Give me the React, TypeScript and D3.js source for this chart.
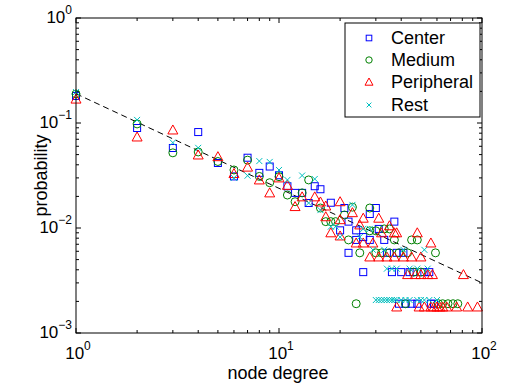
import React from "react";
import * as d3 from "d3";

// degree, probability pairs
const center: [number, number][] = [
  [1, 0.181], [2, 0.0896], [3, 0.0578], [4, 0.082], [5, 0.0416], [6, 0.031], [7, 0.0467], [8, 0.0335],
  [9, 0.0385], [10, 0.0318], [11, 0.025], [12, 0.0216], [13, 0.0216], [14, 0.0173], [15, 0.025], [16, 0.0234],
  [18, 0.0174], [20, 0.0095], [21, 0.0155], [22, 0.0115], [22, 0.0058], [24, 0.0095], [24, 0.0077], [26, 0.0082],
  [26, 0.0038], [28, 0.0136], [28, 0.0077], [30, 0.0155], [31, 0.0098], [33, 0.0077], [34, 0.0058], [37, 0.0115],
  [38, 0.0058], [41, 0.0058], [36, 0.0038], [40, 0.0038], [44, 0.0038], [46, 0.0038], [52, 0.0038], [55, 0.0038],
  [39, 0.0019], [42, 0.0019], [45, 0.0019], [48, 0.0019], [56, 0.0019], [58, 0.0019],
];

const medium: [number, number][] = [
  [1, 0.189], [2, 0.098], [3, 0.052], [4, 0.053], [5, 0.043], [6, 0.0357], [7, 0.0443], [8, 0.031],
  [9, 0.027], [10, 0.0308], [11, 0.0206], [12, 0.0178], [13, 0.0216], [14, 0.0287], [16, 0.0155], [17, 0.0115],
  [18, 0.0115], [19, 0.0115], [21, 0.0133], [22, 0.0077], [23, 0.0158], [24, 0.0019], [25, 0.0058], [28, 0.0155],
  [28, 0.0094], [30, 0.0094], [30, 0.0058], [32, 0.0058], [33, 0.0098], [35, 0.0098], [37, 0.0077], [35, 0.0058],
  [39, 0.0058], [43, 0.0058], [45, 0.0077], [48, 0.0077], [59, 0.0058], [46, 0.0038], [50, 0.0038], [42, 0.0019],
  [61, 0.0019], [64, 0.0019], [68, 0.0019], [72, 0.0019], [76, 0.0019],
];

const peripheral: [number, number][] = [
  [1, 0.169], [2, 0.0736], [3, 0.0858], [4, 0.0496], [5, 0.0478], [6, 0.033], [7, 0.038], [8, 0.0287],
  [9, 0.0216], [10, 0.03], [11, 0.0255], [12, 0.016], [13, 0.0198], [15, 0.0198], [16, 0.0177], [17, 0.0162],
  [17, 0.0128], [18, 0.009], [20, 0.0178], [20, 0.012], [20, 0.0084], [23, 0.014], [24, 0.0072], [25, 0.0107],
  [26, 0.0072], [26, 0.0124], [28, 0.0053], [29, 0.0072], [31, 0.0124], [32, 0.009], [35, 0.0105], [37, 0.009],
  [38, 0.009], [48, 0.009], [56, 0.0072], [31, 0.0053], [34, 0.0053], [37, 0.0053], [41, 0.0053], [45, 0.0053],
  [50, 0.0053], [43, 0.0036], [47, 0.0036], [50, 0.0036], [54, 0.0036], [57, 0.0036], [81, 0.0036], [38, 0.00177],
  [49, 0.00177], [52, 0.00177], [56, 0.00177], [58, 0.00177], [60, 0.00177], [62, 0.00177], [64, 0.00177],
  [67, 0.00177], [75, 0.00177], [85, 0.00177], [95, 0.00177],
];

const rest: [number, number][] = [
  [1, 0.197], [2, 0.107], [3, 0.065], [4, 0.058], [6, 0.03], [7, 0.0315], [8, 0.0434], [9, 0.0426],
  [10, 0.0357], [11, 0.0287], [13, 0.0316], [14, 0.0173], [15, 0.0293], [16, 0.0148], [18, 0.0103], [19, 0.0103],
  [20, 0.0082], [23, 0.0166], [25, 0.0082], [26, 0.0098], [28, 0.0098], [29, 0.0062], [33, 0.0062], [41, 0.0062],
  [52, 0.0062], [34, 0.0041], [36, 0.0041], [38, 0.0041], [44, 0.0041], [48, 0.0041], [54, 0.0041], [30, 0.00206],
  [31, 0.00206], [32, 0.00206], [33, 0.00206], [34, 0.00206], [35, 0.00206], [36, 0.00206], [37, 0.00206],
  [38, 0.00206], [40, 0.00206], [42, 0.00206], [44, 0.00206], [48, 0.00206], [50, 0.00206], [52, 0.00206],
  [55, 0.00206], [60, 0.00206],
];

// power-law guide (dashed)
const fitLine: [number, number][] = [[1, 0.19], [100, 0.003]];

const xTicks = [1, 10, 100];
const yTicks = [0.001, 0.01, 0.1, 1];
const xTickLabels = ["0", "1", "2"];
const yTickLabels = ["\u22123", "\u22122", "\u22121", "0"];

const seriesNames = ["Center", "Medium", "Peripheral", "Rest"];
const seriesColors = ["#0000ff", "#008000", "#ff0000", "#00bfbf"];

const W = 506;
const H = 387;
const left = 76, right = 482, top = 18, bottom = 333;
const font = "'Liberation Sans', Arial, Helvetica, sans-serif";

function Marker({ kind, x, y, color, s = 1 }: { kind: number; x: number; y: number; color: string; s?: number }) {
  if (kind === 0) {
    const h = 3.5 * s;
    return <rect x={x - h} y={y - h} width={2 * h} height={2 * h} fill="none" stroke={color} strokeWidth={1} />;
  }
  if (kind === 1) return <circle cx={x} cy={y} r={4 * s} fill="none" stroke={color} strokeWidth={1} />;
  if (kind === 2) {
    const a = 5 * s;
    return (
      <path d={`M${x},${y - a}L${x + a},${y + a * 0.8}L${x - a},${y + a * 0.8}Z`} fill="none" stroke={color} strokeWidth={1} />
    );
  }
  const c = 3 * s;
  return <path d={`M${x - c},${y - c}L${x + c},${y + c}M${x - c},${y + c}L${x + c},${y - c}`} stroke={color} strokeWidth={1} />;
}

export default function App() {
  const x = d3.scaleLog().domain([1, 100]).range([left, right]);
  const y = d3.scaleLog().domain([0.001, 1]).range([bottom, top]);
  const allSeries = [center, medium, peripheral, rest];

  const line = d3.line<[number, number]>().x((d) => x(d[0])).y((d) => y(d[1]));

  // minor ticks 2..9 per decade
  const xMinor: number[] = [];
  [1, 10].forEach((d) => { for (let i = 2; i <= 9; i++) xMinor.push(d * i); });
  const yMinor: number[] = [];
  [0.001, 0.01, 0.1].forEach((d) => { for (let i = 2; i <= 9; i++) yMinor.push(d * i); });

  const legendY = [38, 60, 82, 105];

  return (
    <svg width={W} height={H} style={{ position: "absolute", left: 0, top: 0, background: "#fff" }} fontFamily={font}>
      <rect x={0} y={0} width={W} height={H} fill="#fff" />

      {/* ticks, inside on all four sides */}
      <g stroke="#000" strokeWidth={1}>
        {xTicks.map((t) => (
          <g key={"xt" + t}>
            <line x1={x(t)} x2={x(t)} y1={bottom} y2={bottom - 5} />
            <line x1={x(t)} x2={x(t)} y1={top} y2={top + 5} />
          </g>
        ))}
        {xMinor.map((t) => (
          <g key={"xm" + t}>
            <line x1={x(t)} x2={x(t)} y1={bottom} y2={bottom - 3} />
            <line x1={x(t)} x2={x(t)} y1={top} y2={top + 3} />
          </g>
        ))}
        {yTicks.map((t) => (
          <g key={"yt" + t}>
            <line x1={left} x2={left + 5} y1={y(t)} y2={y(t)} />
            <line x1={right} x2={right - 5} y1={y(t)} y2={y(t)} />
          </g>
        ))}
        {yMinor.map((t) => (
          <g key={"ym" + t}>
            <line x1={left} x2={left + 3} y1={y(t)} y2={y(t)} />
            <line x1={right} x2={right - 3} y1={y(t)} y2={y(t)} />
          </g>
        ))}
      </g>

      {/* dashed guide */}
      <path d={line(fitLine) ?? ""} fill="none" stroke="#000" strokeWidth={1} strokeDasharray="6,4" />

      {/* data */}
      {allSeries.map((s, si) => (
        <g key={seriesNames[si]}>
          {s.map((d, i) => (
            <Marker key={i} kind={si} x={x(d[0])} y={y(d[1])} color={seriesColors[si]} />
          ))}
        </g>
      ))}

      {/* axes box */}
      <rect x={left} y={top} width={right - left} height={bottom - top} fill="none" stroke="#000" strokeWidth={1} />

      {/* tick labels */}
      {xTicks.map((t, i) => (
        <text key={"xl" + t} x={x(t) + 2} y={359} textAnchor="middle" fontSize={17} fill="#000">
          <tspan>10</tspan>
          <tspan dy={-9} fontSize={12}>{xTickLabels[i]}</tspan>
        </text>
      ))}
      {yTicks.map((t, i) => (
        <text key={"yl" + t} x={72} y={y(t) + 5} textAnchor="end" fontSize={17} fill="#000">
          <tspan>10</tspan>
          <tspan dy={-9} fontSize={12}>{yTickLabels[i]}</tspan>
        </text>
      ))}

      {/* axis labels */}
      <text x={278} y={379} textAnchor="middle" fontSize={18} fill="#000">node degree</text>
      <text transform={`translate(47,${(top + bottom) / 2}) rotate(-90)`} textAnchor="middle" fontSize={18} fill="#000">
        probability
      </text>

      {/* legend */}
      <rect x={345} y={23} width={135} height={94} fill="#fff" stroke="#000" strokeWidth={1} />
      {seriesNames.map((n, i) => (
        <g key={"lg" + n}>
          <Marker kind={i} x={369} y={legendY[i]} color={seriesColors[i]} s={0.8} />
          <text x={391} y={legendY[i] + 6} fontSize={18} fill="#000">{n}</text>
        </g>
      ))}
    </svg>
  );
}
